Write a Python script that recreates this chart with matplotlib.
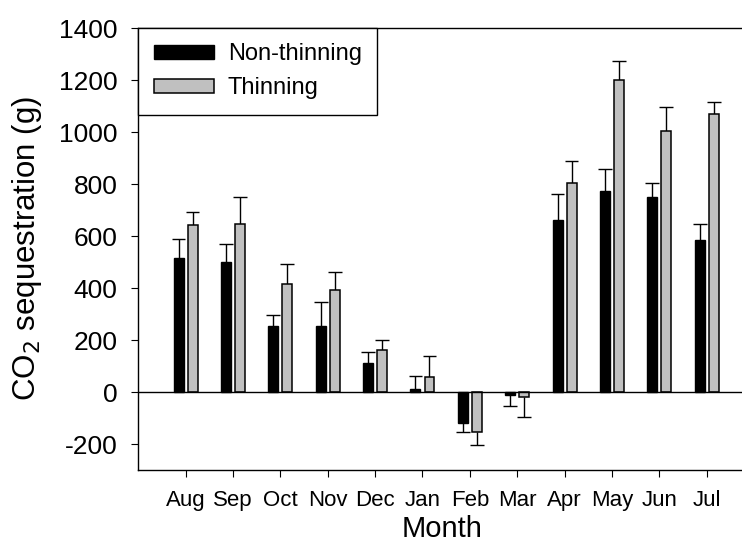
import numpy as np
import matplotlib.pyplot as plt
from matplotlib.patches import Patch

plt.rcParams['font.family'] = ['Liberation Sans', 'DejaVu Sans']
plt.rcParams['axes.unicode_minus'] = False

months = ["Aug", "Sep", "Oct", "Nov", "Dec", "Jan", "Feb", "Mar", "Apr", "May", "Jun", "Jul"]
non_thinning = [515, 501, 255, 255, 110, 11, -120, -12, 661, 772, 750, 585]
non_thinning_err = [75, 67, 42, 90, 45, 50, 32, 40, 102, 87, 54, 61]
thinning = [642, 647, 417, 394, 162, 57, -155, -19, 805, 1199, 1004, 1071]
thinning_err = [51, 102, 77, 67, 38, 83, 47, 76, 82, 76, 91, 43]

x = np.arange(len(months))
w = 0.21
off = 0.148
cap = 0.145

fig = plt.figure(figsize=(7.42, 5.44), dpi=100)
ax = fig.add_axes([0.1863, 0.136, 0.830, 0.8125])


def err_bars(xs, vals, errs):
    # one-sided error bars: up for positive bars, down for negative
    ends = [v + e if v >= 0 else v - e for v, e in zip(vals, errs)]
    ax.vlines(xs, vals, ends, color="black", linewidth=1, zorder=1)
    ax.hlines(ends, xs - cap, xs + cap, color="black", linewidth=1, zorder=1)


ax.bar(x - off, non_thinning, w, color="black", edgecolor="black", linewidth=1, zorder=2)
ax.bar(x + off, thinning, w, color="#c0c0c0", edgecolor="black", linewidth=1.1, zorder=2)
err_bars(x - off, non_thinning, non_thinning_err)
err_bars(x + off, thinning, thinning_err)

ax.axhline(0, color="black", linewidth=1, zorder=3)

ax.set_xlim(-1, 12)
ax.set_ylim(-300, 1400)
ax.set_yticks(range(-200, 1401, 200))
ax.set_xticks(x)
ax.set_xticklabels(months)
ax.tick_params(axis="y", labelsize=19, direction="out", length=5, pad=10, right=False)
ax.tick_params(axis="x", labelsize=16, direction="out", length=5, pad=9.5, top=False)
for s in ax.spines.values():
    s.set_linewidth(1)
ax.spines["right"].set_visible(False)

ax.set_xlabel("Month", fontsize=21, va="baseline")
ax.xaxis.set_label_coords(0.493, -0.1516)
ax.set_ylabel("CO$_2$ sequestration (g)", fontsize=22.5, va="baseline")
ax.yaxis.set_label_coords(-0.1675, 0.502)

handles = [Patch(facecolor="black", edgecolor="black"),
           Patch(facecolor="#c0c0c0", edgecolor="black", linewidth=1.1)]
leg = ax.legend(handles, ["Non-thinning", "Thinning"], loc="upper left", fontsize=17,
                fancybox=False, framealpha=1, edgecolor="black", borderaxespad=0,
                handlelength=2.54, handleheight=0.55, handletextpad=0.6, borderpad=0.65,
                labelspacing=0.5)
leg.get_frame().set_linewidth(1)

fig.savefig("out.png", dpi=100)
